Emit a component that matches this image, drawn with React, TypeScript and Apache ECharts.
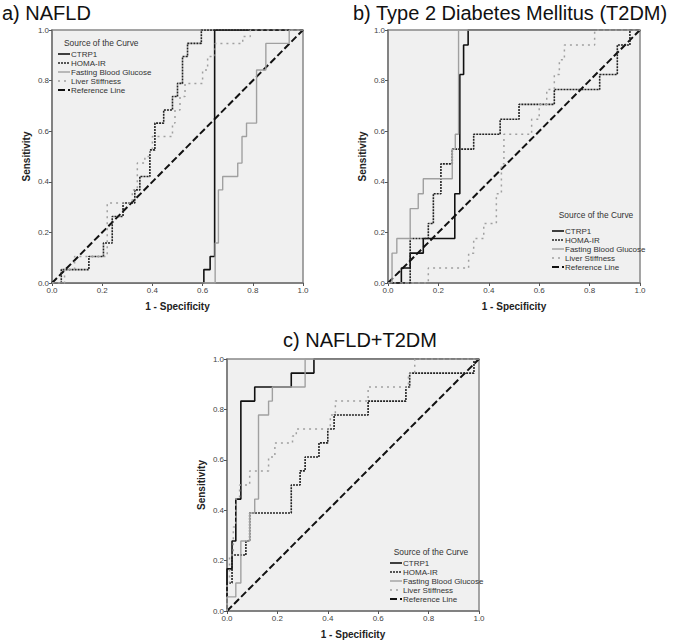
import React, { useEffect, useRef } from "react";
import * as echarts from "echarts";

type P = [number, number];

const seriesNames = ["CTRP1", "HOMA-IR", "Fasting Blood Glucose", "Liver Stiffness", "Reference Line"];
const panelTitles = ["a) NAFLD", "b) Type 2 Diabetes Mellitus (T2DM)", "c) NAFLD+T2DM"];

// Panel a) NAFLD
const aCTRP1: P[] = [[0,0],[0.605,0],[0.605,0.053],[0.63,0.053],[0.63,0.105],[0.648,0.105],[0.648,1],[1,1]];
const aHOMA: P[] = [[0,0],[0.037,0],[0.037,0.053],[0.147,0.053],[0.147,0.105],[0.205,0.105],[0.205,0.158],[0.24,0.158],[0.24,0.263],[0.283,0.263],[0.283,0.316],[0.33,0.316],[0.33,0.368],[0.35,0.368],[0.35,0.421],[0.39,0.421],[0.39,0.526],[0.41,0.526],[0.41,0.632],[0.445,0.632],[0.445,0.684],[0.48,0.684],[0.48,0.737],[0.5,0.737],[0.5,0.789],[0.52,0.789],[0.52,0.895],[0.54,0.895],[0.54,0.947],[0.595,0.947],[0.595,1],[1,1]];
const aFBG: P[] = [[0,0],[0.65,0],[0.65,0.158],[0.663,0.158],[0.663,0.368],[0.68,0.368],[0.68,0.421],[0.74,0.421],[0.74,0.474],[0.757,0.474],[0.757,0.579],[0.775,0.579],[0.775,0.632],[0.815,0.632],[0.815,0.842],[0.852,0.842],[0.852,0.947],[0.945,0.947],[0.945,1],[1,1]];
const aLS: P[] = [[0,0],[0.05,0],[0.05,0.053],[0.09,0.053],[0.09,0.105],[0.22,0.105],[0.22,0.316],[0.32,0.316],[0.32,0.368],[0.34,0.368],[0.34,0.474],[0.37,0.474],[0.37,0.5],[0.39,0.5],[0.39,0.526],[0.4,0.526],[0.4,0.579],[0.48,0.579],[0.48,0.632],[0.49,0.632],[0.49,0.684],[0.51,0.684],[0.51,0.737],[0.53,0.737],[0.53,0.789],[0.6,0.789],[0.6,0.842],[0.62,0.842],[0.62,0.895],[0.65,0.895],[0.65,0.947],[0.76,0.947],[0.76,0.974],[0.79,0.974],[0.79,1],[1,1]];

// Panel b) T2DM
const bCTRP1: P[] = [[0,0],[0.053,0],[0.053,0.059],[0.088,0.059],[0.088,0.118],[0.14,0.118],[0.14,0.176],[0.265,0.176],[0.265,0.353],[0.285,0.353],[0.285,0.824],[0.3,0.824],[0.3,0.941],[0.318,0.941],[0.318,1],[1,1]];
const bHOMA: P[] = [[0,0],[0.088,0],[0.088,0.176],[0.16,0.176],[0.16,0.235],[0.18,0.235],[0.18,0.353],[0.21,0.353],[0.21,0.471],[0.255,0.471],[0.255,0.529],[0.34,0.529],[0.34,0.588],[0.445,0.588],[0.445,0.647],[0.52,0.647],[0.52,0.706],[0.66,0.706],[0.66,0.765],[0.84,0.765],[0.84,0.824],[0.91,0.824],[0.91,0.941],[0.96,0.941],[0.96,1],[1,1]];
const bFBG: P[] = [[0,0],[0.016,0],[0.016,0.118],[0.035,0.118],[0.035,0.176],[0.088,0.176],[0.088,0.294],[0.12,0.294],[0.12,0.353],[0.14,0.353],[0.14,0.412],[0.255,0.412],[0.255,0.529],[0.267,0.529],[0.267,0.588],[0.28,0.588],[0.28,1],[1,1]];
const bLS: P[] = [[0,0],[0.16,0],[0.16,0.059],[0.32,0.059],[0.32,0.118],[0.34,0.118],[0.34,0.176],[0.38,0.176],[0.38,0.235],[0.43,0.235],[0.43,0.353],[0.45,0.353],[0.45,0.471],[0.46,0.471],[0.46,0.588],[0.57,0.588],[0.57,0.647],[0.6,0.647],[0.6,0.706],[0.63,0.706],[0.63,0.765],[0.66,0.765],[0.66,0.824],[0.68,0.824],[0.68,0.882],[0.7,0.882],[0.7,0.941],[0.82,0.941],[0.82,1],[1,1]];

// Panel c) NAFLD+T2DM
const cCTRP1: P[] = [[0,0],[0,0.167],[0.02,0.167],[0.02,0.278],[0.035,0.278],[0.035,0.444],[0.055,0.444],[0.055,0.833],[0.11,0.833],[0.11,0.889],[0.255,0.889],[0.255,0.944],[0.345,0.944],[0.345,1],[1,1]];
const cHOMA: P[] = [[0,0],[0,0.111],[0.02,0.111],[0.02,0.222],[0.075,0.222],[0.075,0.278],[0.09,0.278],[0.09,0.389],[0.255,0.389],[0.255,0.5],[0.29,0.5],[0.29,0.556],[0.31,0.556],[0.31,0.611],[0.365,0.611],[0.365,0.667],[0.4,0.667],[0.4,0.722],[0.425,0.722],[0.425,0.778],[0.56,0.778],[0.56,0.833],[0.71,0.833],[0.71,0.889],[0.725,0.889],[0.725,0.944],[0.98,0.944],[0.98,1],[1,1]];
const cFBG: P[] = [[0,0],[0,0.056],[0.035,0.056],[0.035,0.111],[0.055,0.111],[0.055,0.278],[0.09,0.278],[0.09,0.389],[0.11,0.389],[0.11,0.444],[0.125,0.444],[0.125,0.778],[0.165,0.778],[0.165,0.833],[0.18,0.833],[0.18,0.889],[0.31,0.889],[0.31,1],[1,1]];
const cLS: P[] = [[0,0],[0,0.111],[0.01,0.111],[0.01,0.222],[0.025,0.222],[0.025,0.333],[0.035,0.333],[0.035,0.444],[0.05,0.444],[0.05,0.5],[0.09,0.5],[0.09,0.556],[0.165,0.556],[0.165,0.611],[0.19,0.611],[0.19,0.667],[0.26,0.667],[0.26,0.694],[0.275,0.694],[0.275,0.722],[0.41,0.722],[0.41,0.778],[0.43,0.778],[0.43,0.833],[0.56,0.833],[0.56,0.889],[0.72,0.889],[0.72,0.944],[0.745,0.944],[0.745,1],[1,1]];

const referenceLine: P[] = [[0,0],[1,1]];

const panelData = [
  [aCTRP1, aHOMA, aFBG, aLS, referenceLine],
  [bCTRP1, bHOMA, bFBG, bLS, referenceLine],
  [cCTRP1, cHOMA, cFBG, cLS, referenceLine],
];

const lineStyles = [
  { color: "#111", width: 1.6, type: "solid" as any },
  { color: "#222", width: 1.6, type: [2, 1] as any },
  { color: "#a0a0a0", width: 1.4, type: "solid" as any },
  { color: "#a0a0a0", width: 1.5, type: [2, 4] as any },
  { color: "#111", width: 2, type: [7, 3] as any },
];

const grids = [
  { left: 52, top: 30, width: 251, height: 253 },
  { left: 388, top: 30, width: 252, height: 253 },
  { left: 227, top: 359, width: 252, height: 252 },
];

const legendPos = [
  { x: 58, titleX: 64, titleY: 43, firstY: 54, align: "left" },
  { x: 552, titleX: 596, titleY: 215, firstY: 231, align: "center" },
  { x: 390, titleX: 431, titleY: 552, firstY: 563, align: "center" },
];

const FONT = "Liberation Sans, Arial, sans-serif";

export default function App() {
  const ref = useRef<HTMLDivElement>(null);
  useEffect(() => {
    document.body.style.margin = "0";
    if (!ref.current) return;
    const chart = echarts.init(ref.current, undefined, { renderer: "svg" });

    const xAxis: any[] = [];
    const yAxis: any[] = [];
    const series: any[] = [];
    const graphic: any[] = [];

    grids.forEach((g, i) => {
      const axisCommon = {
        gridIndex: i,
        type: "value",
        min: 0,
        max: 1,
        interval: 0.2,
        nameLocation: "middle",
        nameTextStyle: { fontFamily: FONT, fontSize: 10, fontWeight: "bold", color: "#222" },
        axisLine: { show: true, lineStyle: { color: "#777", width: 1.5 } },
        axisTick: { show: true, length: 3, lineStyle: { color: "#555", width: 1 } },
        axisLabel: {
          fontFamily: FONT,
          fontSize: 8,
          color: "#444",
          margin: 3,
          formatter: (v: number) => v.toFixed(1),
        },
        splitLine: { show: false },
      };
      xAxis.push({ ...axisCommon, name: "1 - Specificity", nameGap: 18 });
      yAxis.push({ ...axisCommon, name: "Sensitivity", nameGap: 21 });

      panelData[i].forEach((d, k) => {
        series.push({
          type: "line",
          name: seriesNames[k],
          xAxisIndex: i,
          yAxisIndex: i,
          data: d,
          symbol: "none",
          lineStyle: lineStyles[k],
          z: k === 4 ? 1 : 3 + k,
        });
      });

      const lp = legendPos[i];
      graphic.push({
        type: "text",
        x: lp.titleX,
        y: lp.titleY,
        style: {
          text: "Source of the Curve",
          fontFamily: FONT,
          fontSize: 8.4,
          fill: "#333",
          textAlign: lp.align,
          textVerticalAlign: "middle",
        },
        z: 100,
      });
      seriesNames.forEach((name, k) => {
        const y = lp.firstY + k * 9;
        const ls = lineStyles[k];
        graphic.push({
          type: "line",
          shape: { x1: lp.x, y1: y, x2: lp.x + 12, y2: y },
          style: { stroke: ls.color, lineWidth: ls.width, lineDash: typeof ls.type === "string" ? null : ls.type },
          z: 100,
        });
        graphic.push({
          type: "text",
          x: lp.x + 13,
          y: y,
          style: {
            text: name,
            fontFamily: FONT,
            fontSize: 8,
            fill: "#333",
            textVerticalAlign: "middle",
          },
          z: 100,
        });
      });
    });

    graphic.push(
      { type: "text", x: 2, y: 13, style: { text: panelTitles[0], fontFamily: FONT, fontSize: 20, fill: "#111", textVerticalAlign: "middle" } },
      { type: "text", x: 353, y: 13, style: { text: panelTitles[1], fontFamily: FONT, fontSize: 20, fill: "#111", textVerticalAlign: "middle" } },
      { type: "text", x: 360, y: 340, style: { text: panelTitles[2], fontFamily: FONT, fontSize: 20, fill: "#111", textAlign: "center", textVerticalAlign: "middle" } }
    );

    chart.setOption({
      animation: false,
      backgroundColor: "#ffffff",
      grid: grids.map((g) => ({
        ...g,
        show: true,
        backgroundColor: "#f0f0f0",
        borderColor: "#888",
        borderWidth: 1.5,
        containLabel: false,
      })),
      xAxis,
      yAxis,
      series,
      graphic,
    });
    return () => chart.dispose();
  }, []);
  return <div ref={ref} style={{ width: 683, height: 643 }} />;
}
